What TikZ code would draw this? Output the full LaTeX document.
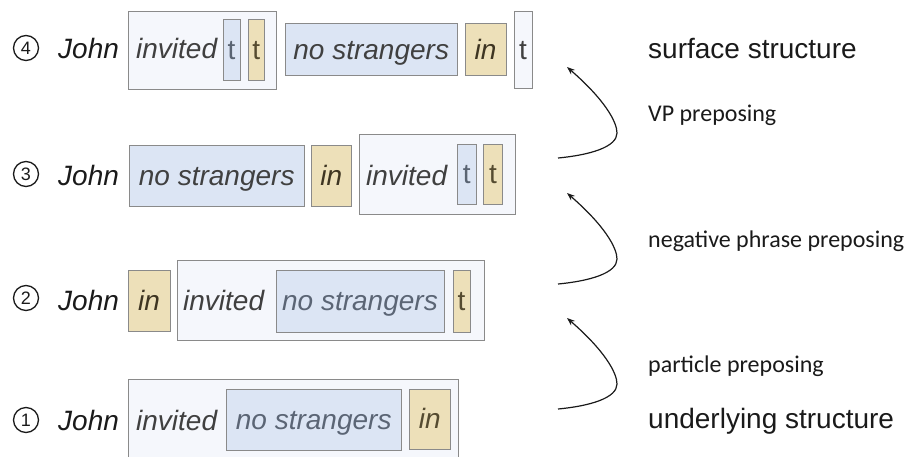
\documentclass[tikz,border=0pt]{standalone}
\usepackage{fontspec}
\setmainfont{Liberation Sans}
\newfontfamily\calfont{Carlito}
\usetikzlibrary{arrows.meta}
\definecolor{outerfill}{HTML}{F5F7FC}
\definecolor{bluefill}{HTML}{DCE5F4}
\definecolor{tanfill}{HTML}{EDE0B9}
\definecolor{boxline}{HTML}{8A8A8A}
\definecolor{darktext}{HTML}{404040}
\definecolor{greytext}{HTML}{5B6575}
\definecolor{olivetext}{HTML}{3E3522}
\definecolor{olivelight}{HTML}{554B30}
\definecolor{tbluetext}{HTML}{5A6472}
\definecolor{inktext}{HTML}{1A1A1A}
\begin{document}
\begin{tikzpicture}[x=1pt,y=-1pt,
  basebox/.style={draw=boxline, line width=0.9pt, inner sep=0pt,
    text height=20pt, text depth=1pt, font=\fontsize{28}{32}\selectfont},
  outerbox/.style={basebox, fill=outerfill},
  bluebox/.style={basebox, fill=bluefill},
  tanbox/.style={basebox, fill=tanfill},
  wordtext/.style={inner sep=0pt, anchor=base west, font=\fontsize{28}{32}\selectfont\itshape},
  numcirc/.style={circle, draw=inktext, line width=1.3pt, minimum size=25pt, inner sep=0pt,
    font=\fontsize{18}{20}\selectfont, text=inktext},
  biglabel/.style={inner sep=0pt, anchor=base west, font=\fontsize{28}{32}\selectfont, text=inktext},
  smalllabel/.style={inner sep=0pt, anchor=base west, font=\calfont\fontsize{24}{28}\selectfont, text=inktext},
  movearrow/.style={draw=inktext, line width=1.2pt, -{Stealth[length=8pt,width=6pt]}}
]
\useasboundingbox (0,0) rectangle (914,456);

% ---------- Row 4 ----------
\node[numcirc] (c4) at (26,48) {4};
\node[wordtext, text=inktext] (john4) at (58,58) {John};
\node[outerbox, minimum width=148pt, minimum height=78pt] (oa4) at (202,50) {};
\node[wordtext, text=darktext] (inv4) at (136,58.5) {invited};
\node[bluebox, minimum width=17pt, minimum height=61pt, text=tbluetext] (bt4) at (231.5,49.5) {t};
\node[tanbox, minimum width=16.5pt, minimum height=61pt, text=olivelight] (tt4) at (256.25,49.5) {t};
\node[bluebox, minimum width=171.5pt, minimum height=52pt, text=darktext, font=\fontsize{28}{32}\selectfont\itshape] (ns4) at (371.25,49.5) {no strangers};
\node[tanbox, minimum width=41pt, minimum height=52pt, text=olivetext, font=\fontsize{28}{32}\selectfont\itshape] (in4) at (485.5,49.5) {in};
\node[outerbox, minimum width=18pt, minimum height=77pt, text=darktext] (ot4) at (523,49.5) {t};

% ---------- Row 3 ----------
\node[numcirc] (c3) at (26,174) {3};
\node[wordtext, text=inktext] (john3) at (58,185) {John};
\node[bluebox, minimum width=174.5pt, minimum height=60.5pt, text=darktext, font=\fontsize{28}{32}\selectfont\itshape] (ns3) at (216.75,175.75) {no strangers};
\node[tanbox, minimum width=40.5pt, minimum height=60.5pt, text=olivetext, font=\fontsize{28}{32}\selectfont\itshape] (in3) at (331.25,175.75) {in};
\node[outerbox, minimum width=156pt, minimum height=80pt] (oa3) at (437,174) {};
\node[wordtext, text=darktext] (inv3) at (366,185) {invited};
\node[bluebox, minimum width=18.5pt, minimum height=60pt, text=tbluetext] (bt3) at (466.75,174) {t};
\node[tanbox, minimum width=19pt, minimum height=60pt, text=olivelight] (tt3) at (493,174) {t};

% ---------- Row 2 ----------
\node[numcirc] (c2) at (26,298) {2};
\node[wordtext, text=inktext] (john2) at (58,310) {John};
\node[tanbox, minimum width=42pt, minimum height=61pt, text=olivetext, font=\fontsize{28}{32}\selectfont\itshape] (in2) at (149,300.5) {in};
\node[outerbox, minimum width=306.5pt, minimum height=80pt] (oa2) at (330.75,300) {};
\node[wordtext, text=darktext] (inv2) at (183,310) {invited};
\node[bluebox, minimum width=168pt, minimum height=62pt, text=greytext, font=\fontsize{28}{32}\selectfont\itshape] (ns2) at (360,301) {no strangers};
\node[tanbox, minimum width=17pt, minimum height=62pt, text=olivelight] (tt2) at (461.5,301) {t};

% ---------- Row 1 ----------
\node[numcirc] (c1) at (26,420) {1};
\node[wordtext, text=inktext] (john1) at (58,430) {John};
\node[outerbox, minimum width=330pt, minimum height=81pt] (oa1) at (293,419.5) {};
\node[wordtext, text=darktext] (inv1) at (136,430) {invited};
\node[bluebox, minimum width=174.5pt, minimum height=61pt, text=greytext, font=\fontsize{28}{32}\selectfont\itshape] (ns1) at (313.75,419.5) {no strangers};
\node[tanbox, minimum width=40.5pt, minimum height=60pt, text=olivelight, font=\fontsize{28}{32}\selectfont\itshape] (in1) at (429.75,419) {in};

% ---------- Right labels ----------
\node[biglabel] (surf) at (648,58) {surface structure};
\node[smalllabel] (vp) at (648,121) {VP preposing};
\node[smalllabel] (neg) at (648,247) {negative phrase preposing};
\node[smalllabel] (part) at (648,372) {particle preposing};
\node[biglabel] (under) at (648,428) {underlying structure};

% ---------- Arrows ----------
\coordinate (a1s) at (558,158); \coordinate (a1b) at (617,133); \coordinate (a1t) at (567,67);
\coordinate (a2s) at (558,284); \coordinate (a2b) at (617,259); \coordinate (a2t) at (567,193);
\coordinate (a3s) at (558,409); \coordinate (a3b) at (617,384); \coordinate (a3t) at (567,318);
\draw[movearrow] (a1s) .. controls (590,155) and (617,147) .. (a1b) .. controls (617,122) and (605,100) .. (a1t);
\draw[movearrow] (a2s) .. controls (590,281) and (617,273) .. (a2b) .. controls (617,248) and (605,226) .. (a2t);
\draw[movearrow] (a3s) .. controls (590,406) and (617,398) .. (a3b) .. controls (617,373) and (605,351) .. (a3t);
\end{tikzpicture}
\end{document}
